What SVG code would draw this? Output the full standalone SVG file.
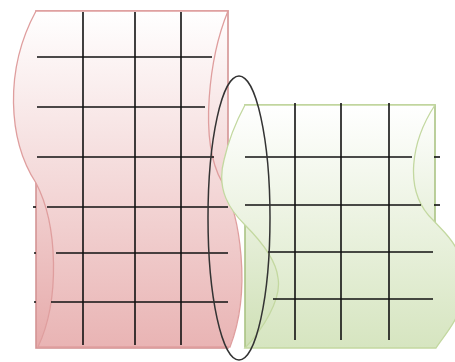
<svg xmlns="http://www.w3.org/2000/svg" width="455" height="362" viewBox="0 0 455 362">
<defs>
<linearGradient id="rg" x1="0" y1="0" x2="0" y2="1"><stop offset="0" stop-color="#ffffff"/><stop offset="1" stop-color="#e6aaaa"/></linearGradient>
<linearGradient id="rw" x1="0" y1="0" x2="0" y2="1"><stop offset="0" stop-color="#ffffff"/><stop offset="1" stop-color="#e9b4b4"/></linearGradient>
<linearGradient id="gg" x1="0" y1="0" x2="0" y2="1"><stop offset="0" stop-color="#ffffff"/><stop offset="1" stop-color="#cfe0b6"/></linearGradient>
<linearGradient id="gw" x1="0" y1="0" x2="0" y2="1"><stop offset="0" stop-color="#ffffff"/><stop offset="1" stop-color="#d6e5c0"/></linearGradient>
<style>
.grid line{stroke:#111;stroke-width:1.6}
.rrect{fill:url(#rg);stroke:#d49494;stroke-width:1.6}
.rwave{fill:url(#rw);stroke:#df9e9e;stroke-width:1.3}
.grect{fill:url(#gg);stroke:#aac384;stroke-width:1.6}
.gwave{fill:url(#gw);stroke:#c3d8a0;stroke-width:1.3}
</style>
</defs>
<g id="red-block">
<rect class="rrect" x="36" y="11" width="192" height="337"/>
<path class="rwave" d="M36,11 L228,11 C210,55 198,140 222,182 C240,215 252,290 230,347 L38,347 C60,300 58,225 36,183 C8,140 4,70 36,11 Z"/>
<g class="grid">
<line x1="83" y1="12" x2="83" y2="345"/>
<line x1="135" y1="12" x2="135" y2="345"/>
<line x1="181" y1="12" x2="181" y2="345"/>
<line x1="37" y1="57" x2="212" y2="57"/>
<line x1="37" y1="107" x2="205" y2="107"/>
<line x1="37" y1="157" x2="214" y2="157"/>
<line x1="47" y1="207" x2="228" y2="207"/>
<line x1="33" y1="207" x2="36" y2="207"/>
<line x1="56" y1="253" x2="228" y2="253"/>
<line x1="34" y1="253" x2="36" y2="253"/>
<line x1="51" y1="302" x2="228" y2="302"/>
<line x1="34" y1="302" x2="36" y2="302"/>
</g>
</g>
<g id="green-block">
<rect class="grect" x="245" y="105" width="190" height="242"/>
<path class="gwave" d="M245,105 L435,105 C412,140 402,190 433,220 C442,230 450,236 456,248 L456,318 C450,330 441,340 436,348 L245,348 C262,330 282,300 278,278 C276,258 258,238 245,225 C230,210 216,190 224,160 C229,138 238,118 245,105 Z"/>
<g class="grid">
<line x1="295" y1="103" x2="295" y2="340"/>
<line x1="341" y1="103" x2="341" y2="340"/>
<line x1="389" y1="103" x2="389" y2="340"/>
<line x1="245" y1="157" x2="412" y2="157"/>
<line x1="434" y1="157" x2="440" y2="157"/>
<line x1="245" y1="205" x2="421" y2="205"/>
<line x1="434" y1="205" x2="440" y2="205"/>
<line x1="268" y1="252" x2="433" y2="252"/>
<line x1="273" y1="299" x2="433" y2="299"/>
</g>
</g>
<g id="ellipse">
<ellipse cx="239" cy="218" rx="31" ry="142" fill="none" stroke="#333" stroke-width="1.5"/>
</g>
</svg>
